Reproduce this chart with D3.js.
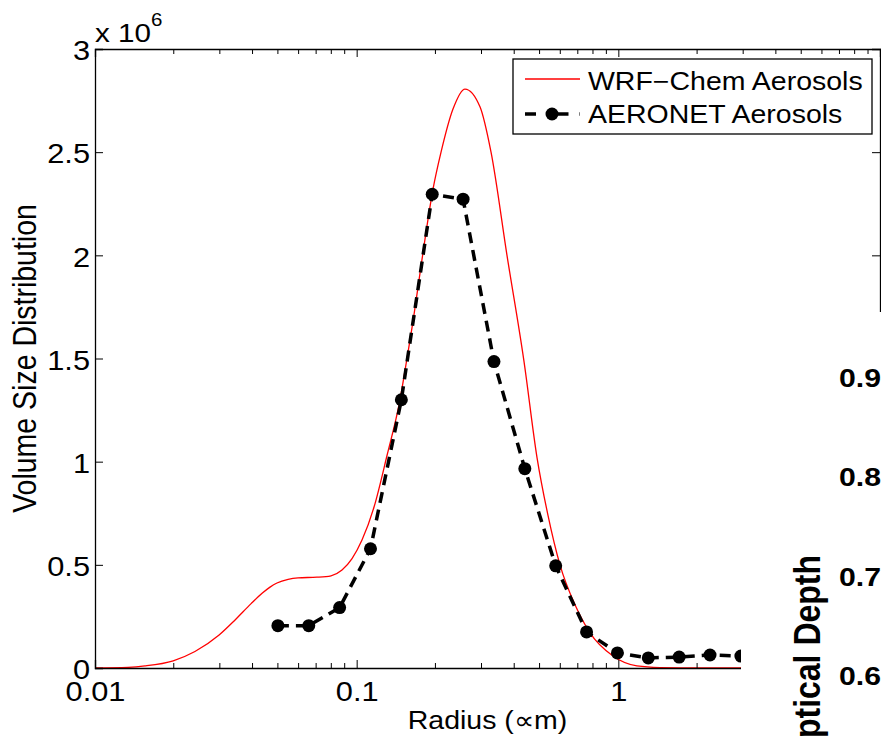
<!DOCTYPE html>
<html>
<head>
<meta charset="utf-8">
<script src="https://cdn.jsdelivr.net/npm/d3@7"></script>
<style>
  body { margin: 0; background: #fff; }
  svg { display: block; }
  /* the reference figure is slightly stretched sideways */
  .wide { transform-box: fill-box; transform: scaleX(1.14); }
  .wide-l { transform-origin: left center; }
  .wide-c { transform-origin: center center; }
  .wide-r { transform-origin: right center; }
</style>
</head>
<body>
<div id="chart"></div>
<script>
// radius in µm, volume size distribution in units of 1e6
const wrfRadius = [0.01, 0.01337, 0.01553, 0.0199, 0.0241, 0.0298, 0.0343, 0.0395, 0.0435, 0.04665,
  0.0496, 0.0547, 0.0597, 0.0705, 0.0798, 0.0879, 0.0960, 0.1048, 0.1165, 0.1306,
  0.1464, 0.1557, 0.1642, 0.1777, 0.1957, 0.2101, 0.2334, 0.2594, 0.2960, 0.3262,
  0.3754, 0.4361, 0.4889, 0.5385, 0.5984, 0.6831, 0.7794, 0.9541, 1.178, 1.443, 2.052, 10];
const wrfVsd = [0, 0.003, 0.01, 0.035, 0.08, 0.16, 0.233, 0.312, 0.362, 0.392,
  0.412, 0.430, 0.437, 0.44, 0.447, 0.475, 0.53, 0.62, 0.78, 1.03,
  1.3, 1.5, 1.68, 1.98, 2.32, 2.5, 2.709, 2.806, 2.72, 2.5,
  2.0, 1.485, 1.02, 0.74, 0.5, 0.306, 0.17, 0.058, 0.01, 0.002, 0, 0];

const aeronetRadius = [0.05, 0.065604, 0.086077, 0.11294, 0.14818, 0.19442, 0.25510, 0.33471,
  0.43917, 0.57623, 0.75608, 0.99203, 1.3016, 1.7078, 2.2408, 2.9401];
const aeronetVsd = [0.205, 0.205, 0.293, 0.578, 1.30, 2.296, 2.272, 1.485,
  0.966, 0.495, 0.175, 0.073, 0.049, 0.053, 0.063, 0.058];

const xMajor = [0.01, 0.1, 1, 10];
const yTicks = [0, 0.5, 1, 1.5, 2, 2.5, 3];
const seriesNames = ["WRF\u2212Chem Aerosols", "AERONET Aerosols"];

// partly hidden neighbouring panel
const odTicks = [0.6, 0.7, 0.8, 0.9];
const odTitle = "Optical Depth";

const W = 881, H = 738;
const margin = { top: 49, right: 1, bottom: 70, left: 95 };
const width = W - margin.left - margin.right,
      height = H - margin.top - margin.bottom;
const font = "'Liberation Sans', Arial, Helvetica, sans-serif";

const svg = d3.select("#chart").append("svg")
  .attr("width", W).attr("height", H)
  .style("font-family", font);

const g = svg.append("g").attr("transform", `translate(${margin.left},${margin.top})`);

const x = d3.scaleLog().domain([0.01, 10]).range([0, width]);
const y = d3.scaleLinear().domain([0, 3]).range([height, 0]);

const minor = [];
xMajor.slice(0, -1).forEach(m => { for (let k = 2; k <= 9; k++) minor.push(m * k); });

// curves
g.append("clipPath").attr("id", "plotclip").append("rect").attr("width", width).attr("height", height);

g.append("path")
  .datum(wrfRadius.map((r, i) => [r, wrfVsd[i]]))
  .attr("clip-path", "url(#plotclip)")
  .attr("fill", "none")
  .attr("stroke", "#ff0000")
  .attr("stroke-width", 1.3)
  .attr("d", d3.line().x(d => x(d[0])).y(d => y(d[1])).curve(d3.curveMonotoneX));

const aer = aeronetRadius.map((r, i) => [r, aeronetVsd[i]]);
g.append("path")
  .datum(aer)
  .attr("fill", "none")
  .attr("stroke", "#000")
  .attr("stroke-width", 3.5)
  .attr("stroke-dasharray", "11,7")
  .attr("d", d3.line().x(d => x(d[0])).y(d => y(d[1])));

g.selectAll(".dot").data(aer).enter().append("circle")
  .attr("cx", d => x(d[0])).attr("cy", d => y(d[1]))
  .attr("r", 6.5).attr("fill", "#000");

// axes (MATLAB style, ticks inside, box)
const axBottom = g.append("g").attr("transform", `translate(0,${height})`)
  .call(d3.axisBottom(x).tickValues(xMajor).tickFormat(d => d === 10 ? "" : String(d))
    .tickSize(-8).tickPadding(14));
axBottom.selectAll("text").attr("class", "wide wide-c");
axBottom.append("g").selectAll("line").data(minor).enter().append("line")
  .attr("x1", d => x(d)).attr("x2", d => x(d)).attr("y1", 0).attr("y2", -5);

const axTop = g.append("g")
  .call(d3.axisTop(x).tickValues(xMajor).tickFormat("").tickSize(-8));
axTop.append("g").selectAll("line").data(minor).enter().append("line")
  .attr("x1", d => x(d)).attr("x2", d => x(d)).attr("y1", 0).attr("y2", 5);

const axLeft = g.append("g")
  .call(d3.axisLeft(y).tickValues(yTicks).tickFormat(d3.format("~g")).tickSize(-8).tickPadding(5));
axLeft.selectAll("text").attr("dy", "0.4em").attr("class", "wide wide-r");

g.append("g").attr("transform", `translate(${width},0)`)
  .call(d3.axisRight(y).tickValues(yTicks).tickFormat("").tickSize(-8));

g.selectAll(".domain").attr("stroke", "#000").attr("stroke-width", 1.3);
g.selectAll("g line").attr("stroke", "#000").attr("stroke-width", 1);
g.selectAll(".tick text").style("font-size", "27px").style("font-family", font).attr("fill", "#000");

// multiplier
const mult = g.append("text").attr("x", 0).attr("y", -7)
  .attr("class", "wide wide-l")
  .style("font-size", "26px").attr("fill", "#000");
mult.append("tspan").text("x 10");
mult.append("tspan").attr("dy", -16).style("font-size", "18px").text("6");

// axis titles
g.append("text")
  .attr("x", width / 2).attr("y", height + 61)
  .attr("text-anchor", "middle")
  .attr("class", "wide wide-c")
  .style("font-size", "25px")
  .text("Radius (\u221Dm)");

g.append("g")
  .attr("transform", `translate(${36 - margin.left},${height / 2}) scale(1.14,1) rotate(-90)`)
  .append("text")
  .attr("text-anchor", "middle")
  .style("font-size", "28.5px")
  .text("Volume Size Distribution");

// legend
const lg = g.append("g").attr("transform", `translate(${width - 367},10)`);
lg.append("rect").attr("width", 359).attr("height", 75)
  .attr("fill", "#fff").attr("stroke", "#000").attr("stroke-width", 1.3);
lg.append("line").attr("x1", 12).attr("x2", 67).attr("y1", 20).attr("y2", 20)
  .attr("stroke", "#ff0000").attr("stroke-width", 1.3);
lg.append("line").attr("x1", 12).attr("x2", 67).attr("y1", 55).attr("y2", 55)
  .attr("stroke", "#000").attr("stroke-width", 3.5).attr("stroke-dasharray", "11,21.5,11");
lg.append("circle").attr("cx", 39).attr("cy", 55).attr("r", 6.5).attr("fill", "#000");
lg.selectAll(".lt").data(seriesNames).enter().append("text")
  .attr("x", 75).attr("y", (d, i) => 31 + i * 33)
  .attr("class", "wide wide-l")
  .style("font-size", "25px").attr("fill", "#000")
  .text(d => d);

// overlapping neighbouring panel (white background covers lower right)
const od = svg.append("g");
od.append("rect").attr("x", 741).attr("y", 312).attr("width", W - 741).attr("height", H - 312)
  .attr("fill", "#fff");
const yod = d3.scaleLinear().domain([0.6, 0.9]).range([685, 387]);
od.selectAll(".odt").data(odTicks).enter().append("text")
  .attr("x", 839).attr("y", d => yod(d))
  .attr("class", "wide wide-l")
  .style("font-size", "26.5px").style("font-weight", "bold")
  .text(d => d3.format(".1f")(d));
od.append("g")
  .attr("transform", "translate(820,555) scale(1.14,1) rotate(-90)")
  .append("text")
  .attr("text-anchor", "end")
  .style("font-size", "32px").style("font-weight", "bold")
  .text(odTitle);
</script>
</body>
</html>
